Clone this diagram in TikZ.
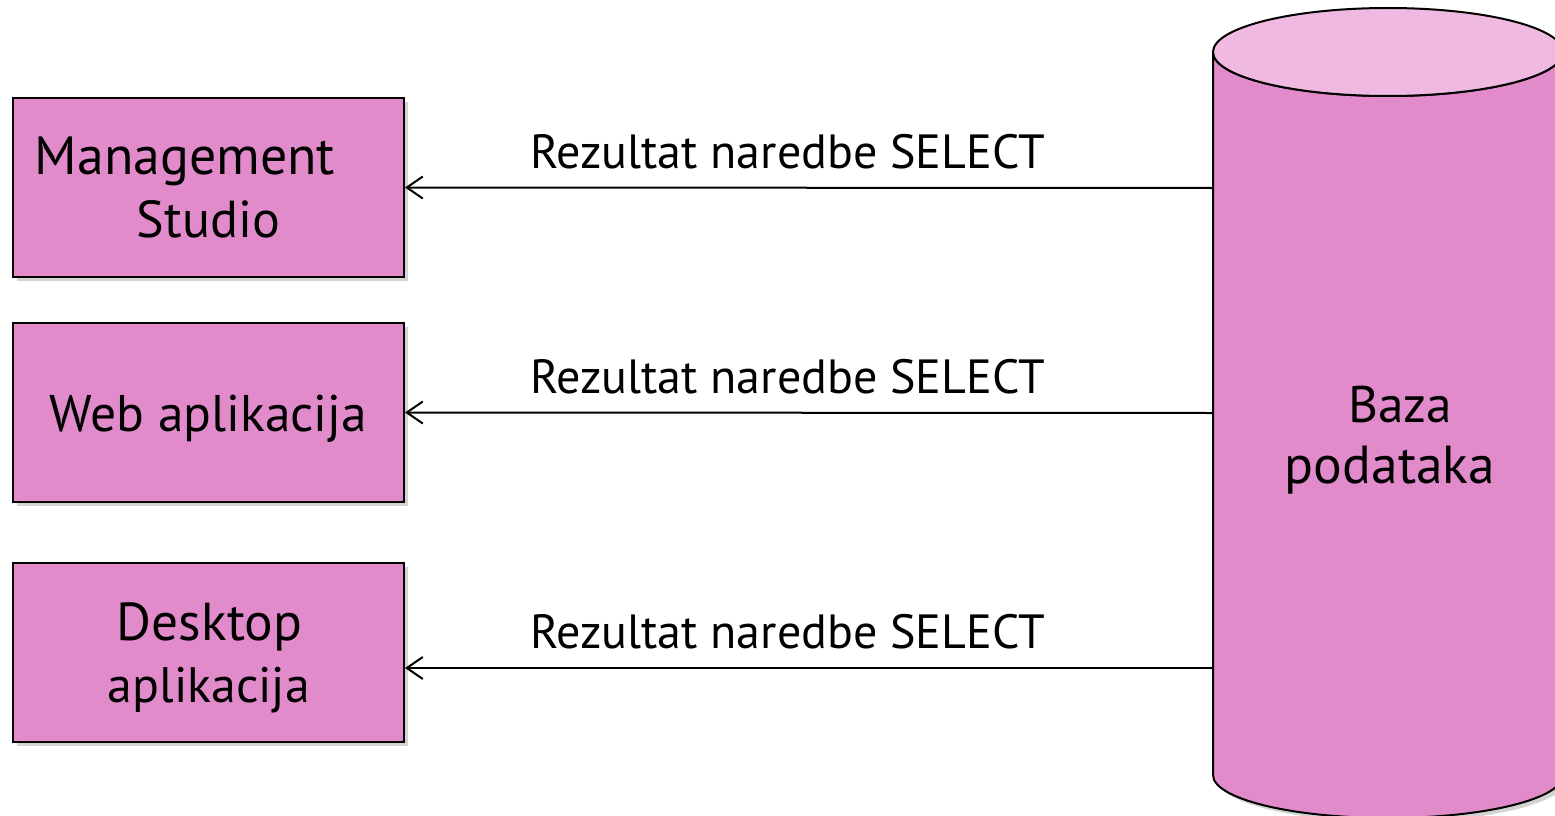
\documentclass[tikz,border=0pt]{standalone}
\usepackage{fontspec}
\setmainfont{PT Sans}
\usepackage{graphicx}
\usetikzlibrary{arrows.meta,shadows}
\definecolor{boxfill}{HTML}{E18BCB}
\definecolor{topfill}{HTML}{EFB9E1}
\newcommand\fitto[2]{\resizebox{#1pt}{!}{#2}}
\tikzset{
  box/.style={draw=black, line width=2pt, fill=boxfill, rectangle, inner sep=0pt,
    minimum width=391pt, minimum height=179pt,
    drop shadow={shadow xshift=4pt, shadow yshift=-4pt, opacity=0.35}},
  txt/.style={inner sep=0pt, anchor=base, text=black},
  arr/.style={line width=2pt, {Straight Barb[length=16pt,width=22pt,line width=2pt]}-},
}
\begin{document}
\begin{tikzpicture}[x=1pt,y=-1pt]
\useasboundingbox (0,0) rectangle (1555,816);
\clip (0,0) rectangle (1555,816);
% database cylinder
\path[fill=boxfill, draw=black, line width=2pt,
  drop shadow={shadow xshift=4pt, shadow yshift=-4pt, opacity=0.35}]
  (1213,52) -- (1213,775) arc[start angle=180, end angle=0, x radius=175, y radius=43]
  -- (1563,52) arc[start angle=0, end angle=180, x radius=175, y radius=44] -- cycle;
\draw[fill=topfill, line width=2pt] (1388,52) ellipse[x radius=175, y radius=44];
\coordinate (a1) at (1213,188);
\coordinate (a2) at (1213,413);
\coordinate (a3) at (1213,668);
\node[txt] (db1) at (1400,422) {\fitto{104}{Baza}};
\node[txt] (db2) at (1390,483) {\fitto{210}{podataka}};
% boxes
\node[box] (ms) at (208.5,187.5) {};
\node[box] (wa) at (208.5,412.5) {};
\node[box] (da) at (208.5,652.5) {};
\node[txt] (ms1) at (185,174) {\fitto{300}{Management}};
\node[txt] (ms2) at (208.5,237) {\fitto{143}{Studio}};
\node[txt] (wa1) at (208.5,431) {\fitto{317}{Web aplikacija}};
\node[txt] (da1) at (209.5,640) {\fitto{185}{Desktop}};
\node[txt] (da2) at (209,702) {\fitto{202}{aplikacija}};
% connectors
\draw[arr] (ms.east) -- (a1);
\draw[arr] (wa.east) -- (a2);
\draw[arr] (a3 -| da.east) -- (a3);
\node[txt] (l1) at (787.5,168) {\fitto{515}{Rezultat naredbe SELECT}};
\node[txt] (l2) at (787.5,393) {\fitto{515}{Rezultat naredbe SELECT}};
\node[txt] (l3) at (787.5,648) {\fitto{515}{Rezultat naredbe SELECT}};
\end{tikzpicture}
\end{document}
